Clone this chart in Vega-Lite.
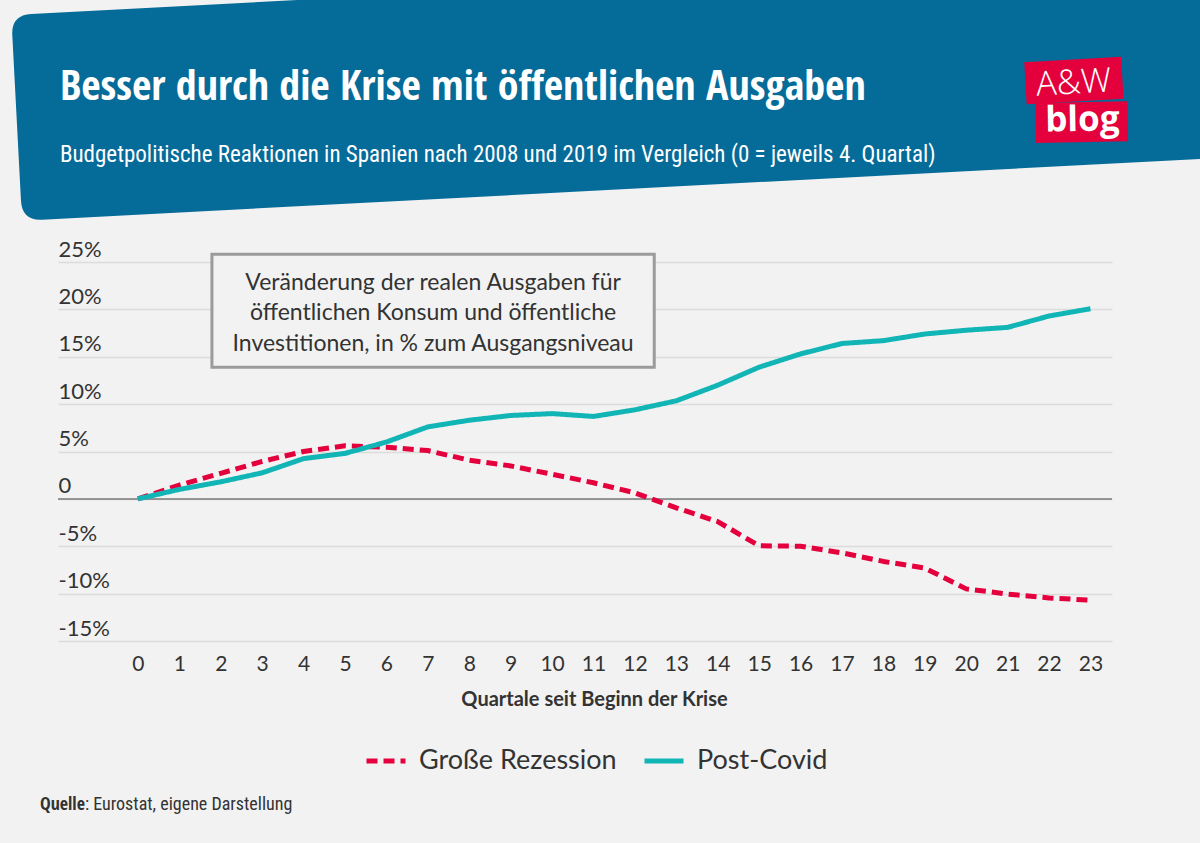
{
  "$schema": "https://vega.github.io/schema/vega-lite/v6.json",
  "width": 1054,
  "height": 379,
  "autosize": {"type": "none"},
  "padding": {"left": 58, "top": 262, "right": 88, "bottom": 202},
  "background": "#f2f2f2",
  "config": {"view": {"stroke": null}, "font": "Lato"},
  "datasets": {
    "series": [
      {"q": 0, "serie": "Große Rezession", "v": 0},
      {"q": 1, "serie": "Große Rezession", "v": 1.45},
      {"q": 2, "serie": "Große Rezession", "v": 2.7},
      {"q": 3, "serie": "Große Rezession", "v": 3.95},
      {"q": 4, "serie": "Große Rezession", "v": 5.0},
      {"q": 5, "serie": "Große Rezession", "v": 5.6},
      {"q": 6, "serie": "Große Rezession", "v": 5.45},
      {"q": 7, "serie": "Große Rezession", "v": 5.1},
      {"q": 8, "serie": "Große Rezession", "v": 4.08},
      {"q": 9, "serie": "Große Rezession", "v": 3.48},
      {"q": 10, "serie": "Große Rezession", "v": 2.6},
      {"q": 11, "serie": "Große Rezession", "v": 1.7},
      {"q": 12, "serie": "Große Rezession", "v": 0.64},
      {"q": 13, "serie": "Große Rezession", "v": -0.95},
      {"q": 14, "serie": "Große Rezession", "v": -2.4},
      {"q": 15, "serie": "Große Rezession", "v": -4.95},
      {"q": 16, "serie": "Große Rezession", "v": -5.0},
      {"q": 17, "serie": "Große Rezession", "v": -5.7},
      {"q": 18, "serie": "Große Rezession", "v": -6.6},
      {"q": 19, "serie": "Große Rezession", "v": -7.3},
      {"q": 20, "serie": "Große Rezession", "v": -9.5},
      {"q": 21, "serie": "Große Rezession", "v": -10.05},
      {"q": 22, "serie": "Große Rezession", "v": -10.45},
      {"q": 23, "serie": "Große Rezession", "v": -10.7},
      {"q": 0, "serie": "Post-Covid", "v": 0},
      {"q": 1, "serie": "Post-Covid", "v": 1.0},
      {"q": 2, "serie": "Post-Covid", "v": 1.8},
      {"q": 3, "serie": "Post-Covid", "v": 2.75},
      {"q": 4, "serie": "Post-Covid", "v": 4.25},
      {"q": 5, "serie": "Post-Covid", "v": 4.8},
      {"q": 6, "serie": "Post-Covid", "v": 6.0},
      {"q": 7, "serie": "Post-Covid", "v": 7.6},
      {"q": 8, "serie": "Post-Covid", "v": 8.3},
      {"q": 9, "serie": "Post-Covid", "v": 8.8},
      {"q": 10, "serie": "Post-Covid", "v": 9.0},
      {"q": 11, "serie": "Post-Covid", "v": 8.7},
      {"q": 12, "serie": "Post-Covid", "v": 9.4},
      {"q": 13, "serie": "Post-Covid", "v": 10.35},
      {"q": 14, "serie": "Post-Covid", "v": 12.0},
      {"q": 15, "serie": "Post-Covid", "v": 13.9},
      {"q": 16, "serie": "Post-Covid", "v": 15.3},
      {"q": 17, "serie": "Post-Covid", "v": 16.4},
      {"q": 18, "serie": "Post-Covid", "v": 16.7},
      {"q": 19, "serie": "Post-Covid", "v": 17.4},
      {"q": 20, "serie": "Post-Covid", "v": 17.8},
      {"q": 21, "serie": "Post-Covid", "v": 18.1},
      {"q": 22, "serie": "Post-Covid", "v": 19.3},
      {"q": 23, "serie": "Post-Covid", "v": 20.07}
    ]
  },
  "layer": [
    {
      "data": {"values": [{}]},
      "mark": {"type": "point", "shape": "M20,0 L1400,0 L1400,206 L20,206 Q0,206 0,186 L0,20 Q0,0 20,0 Z", "size": 4, "angle": -3, "filled": true, "fill": "#056b99", "opacity": 1, "strokeWidth": 0},
      "encoding": {
        "x": {"datum": -3.059, "type": "quantitative", "scale": {"domain": [-1.93, 23.52], "nice": false, "zero": false}},
        "y": {"datum": 51.07, "type": "quantitative", "scale": {"domain": [-15, 25], "nice": false, "zero": false}}
      }
    },
    {
      "data": {"values": [{"t": "Besser durch die Krise mit öffentlichen Ausgaben"}]},
      "mark": {"type": "text", "font": "Open Sans Condensed", "fontWeight": "bold", "fontSize": 42, "color": "#ffffff", "align": "left", "baseline": "alphabetic"},
      "encoding": {"x": {"datum": -1.883, "type": "quantitative"}, "y": {"datum": 42.10, "type": "quantitative"}, "text": {"field": "t"}}
    },
    {
      "data": {"values": [{"t": "Budgetpolitische Reaktionen in Spanien nach 2008 und 2019 im Vergleich (0 = jeweils 4. Quartal)"}]},
      "mark": {"type": "text", "font": "Roboto Condensed", "fontWeight": "normal", "fontSize": 23, "color": "#ffffff", "align": "left", "baseline": "alphabetic"},
      "encoding": {"x": {"datum": -1.883, "type": "quantitative"}, "y": {"datum": 35.56, "type": "quantitative"}, "text": {"field": "t"}}
    },
    {
      "data": {"values": [{}]},
      "mark": {"type": "point", "shape": "M-48.5,-21 L48.5,-21 L48.5,21 L-48.5,21 Z", "size": 4, "angle": -3.3, "filled": true, "fill": "#e4003c", "opacity": 1, "strokeWidth": 0},
      "encoding": {"x": {"datum": 22.6, "type": "quantitative"}, "y": {"datum": 44.16, "type": "quantitative"}}
    },
    {
      "data": {"values": [{}]},
      "mark": {"type": "point", "shape": "M-46,-20 L46,-20 L46,20 L-46,20 Z", "size": 4, "angle": -1, "filled": true, "fill": "#e4003c", "opacity": 1, "strokeWidth": 0},
      "encoding": {"x": {"datum": 22.79, "type": "quantitative"}, "y": {"datum": 39.76, "type": "quantitative"}}
    },
    {
      "data": {"values": [{"t": "A&W"}]},
      "mark": {"type": "text", "font": "Open Sans", "fontWeight": 300, "fontSize": 34, "color": "#ffffff", "align": "center", "baseline": "alphabetic", "angle": -3.3},
      "encoding": {"x": {"datum": 22.61, "type": "quantitative"}, "y": {"datum": 42.77, "type": "quantitative"}, "text": {"field": "t"}}
    },
    {
      "data": {"values": [{"t": "blog"}]},
      "mark": {"type": "text", "font": "Open Sans", "fontWeight": "bold", "fontSize": 35, "color": "#ffffff", "align": "center", "baseline": "alphabetic", "angle": -1},
      "encoding": {"x": {"datum": 22.81, "type": "quantitative"}, "y": {"datum": 38.83, "type": "quantitative"}, "text": {"field": "t"}}
    },
    {
      "data": {"values": [{}]},
      "mark": {"type": "rect", "fill": "#f2f2f2", "stroke": "#9b9b9b", "strokeWidth": 3},
      "encoding": {
        "x": {"datum": 1.787, "type": "quantitative"},
        "x2": {"datum": 12.467},
        "y": {"datum": 25.82, "type": "quantitative"},
        "y2": {"datum": 13.89}
      }
    },
    {
      "data": {"values": [{"t": ["Veränderung der realen Ausgaben für", "öffentlichen Konsum und öffentliche", "Investitionen, in % zum Ausgangsniveau"]}]},
      "mark": {"type": "text", "font": "Lato", "fontSize": 23, "color": "#333333", "align": "center", "baseline": "alphabetic", "lineHeight": 30.5},
      "encoding": {"x": {"datum": 7.127, "type": "quantitative"}, "y": {"datum": 22.05, "type": "quantitative"}, "text": {"field": "t"}}
    },
    {
      "data": {"values": [{"t": "Quelle"}]},
      "mark": {"type": "text", "font": "Open Sans Condensed", "fontWeight": "bold", "fontSize": 18, "color": "#333333", "align": "left", "baseline": "alphabetic"},
      "encoding": {"x": {"datum": -2.366, "type": "quantitative"}, "y": {"datum": -32.83, "type": "quantitative"}, "text": {"field": "t"}}
    },
    {
      "data": {"values": [{"t": ": Eurostat, eigene Darstellung"}]},
      "mark": {"type": "text", "font": "Roboto Condensed", "fontSize": 18, "color": "#333333", "align": "left", "baseline": "alphabetic"},
      "encoding": {"x": {"datum": -1.28, "type": "quantitative"}, "y": {"datum": -32.83, "type": "quantitative"}, "text": {"field": "t"}}
    },
    {
      "data": {"values": [{}]},
      "mark": {"type": "rule", "color": "#7a7a7a", "strokeWidth": 1.5},
      "encoding": {"y": {"datum": 0, "type": "quantitative"}}
    },
    {
      "data": {"name": "series"},
      "mark": {"type": "line", "strokeWidth": 5, "strokeJoin": "round"},
      "encoding": {
        "x": {
          "field": "q", "type": "quantitative",
          "scale": {"domain": [-1.93, 23.52], "nice": false, "zero": false},
          "axis": {
            "values": [0,1,2,3,4,5,6,7,8,9,10,11,12,13,14,15,16,17,18,19,20,21,22,23],
            "domain": false, "ticks": false, "tickSize": 0, "grid": false,
            "labelFont": "Lato", "labelFontSize": 21, "labelColor": "#333333",
            "labelBaseline": "alphabetic", "labelPadding": 29, "labelFlush": false, "labelOverlap": false,
            "title": "Quartale seit Beginn der Krise",
            "titleFont": "Lato", "titleFontSize": 20, "titleFontWeight": "bold", "titleColor": "#333333",
            "titlePadding": 15, "titleX": 536
          }
        },
        "y": {
          "field": "v", "type": "quantitative",
          "scale": {"domain": [-15, 25], "nice": false, "zero": false},
          "axis": {
            "values": [-15,-10,-5,0,5,10,15,20,25],
            "domain": false, "ticks": false, "tickSize": 0,
            "grid": true, "gridColor": "#dcdcdc", "gridWidth": 1.5,
            "labelFont": "Lato", "labelFontSize": 22, "labelColor": "#333333",
            "labelAlign": "left", "labelBaseline": "alphabetic", "labelPadding": 0, "labelOffset": -6,
            "labelOverlap": false, "labelBound": false,
            "labelExpr": "datum.value == 0 ? '0' : datum.value + '%'",
            "title": null
          }
        },
        "color": {
          "field": "serie", "type": "nominal",
          "scale": {"domain": ["Große Rezession", "Post-Covid"], "range": ["#e4003c", "#12b5b5"]},
          "legend": {
            "title": null, "orient": "none", "legendX": 306, "legendY": 477, "direction": "horizontal",
            "symbolType": "stroke", "symbolSize": 1521, "symbolStrokeWidth": 5,
            "labelFont": "Lato", "labelFontSize": 27, "labelColor": "#333333", "labelLimit": 400,
            "labelOffset": 11, "columnPadding": 17, "padding": 0
          }
        },
        "strokeDash": {
          "field": "serie", "type": "nominal",
          "scale": {"domain": ["Große Rezession", "Post-Covid"], "range": [[11, 6], [1, 0]]},
          "legend": {
            "title": null, "orient": "none", "legendX": 306, "legendY": 477, "direction": "horizontal",
            "symbolType": "stroke", "symbolSize": 1521, "symbolStrokeWidth": 5,
            "labelFont": "Lato", "labelFontSize": 27, "labelColor": "#333333", "labelLimit": 400,
            "labelOffset": 11, "columnPadding": 17, "padding": 0
          }
        }
      }
    }
  ]
}
